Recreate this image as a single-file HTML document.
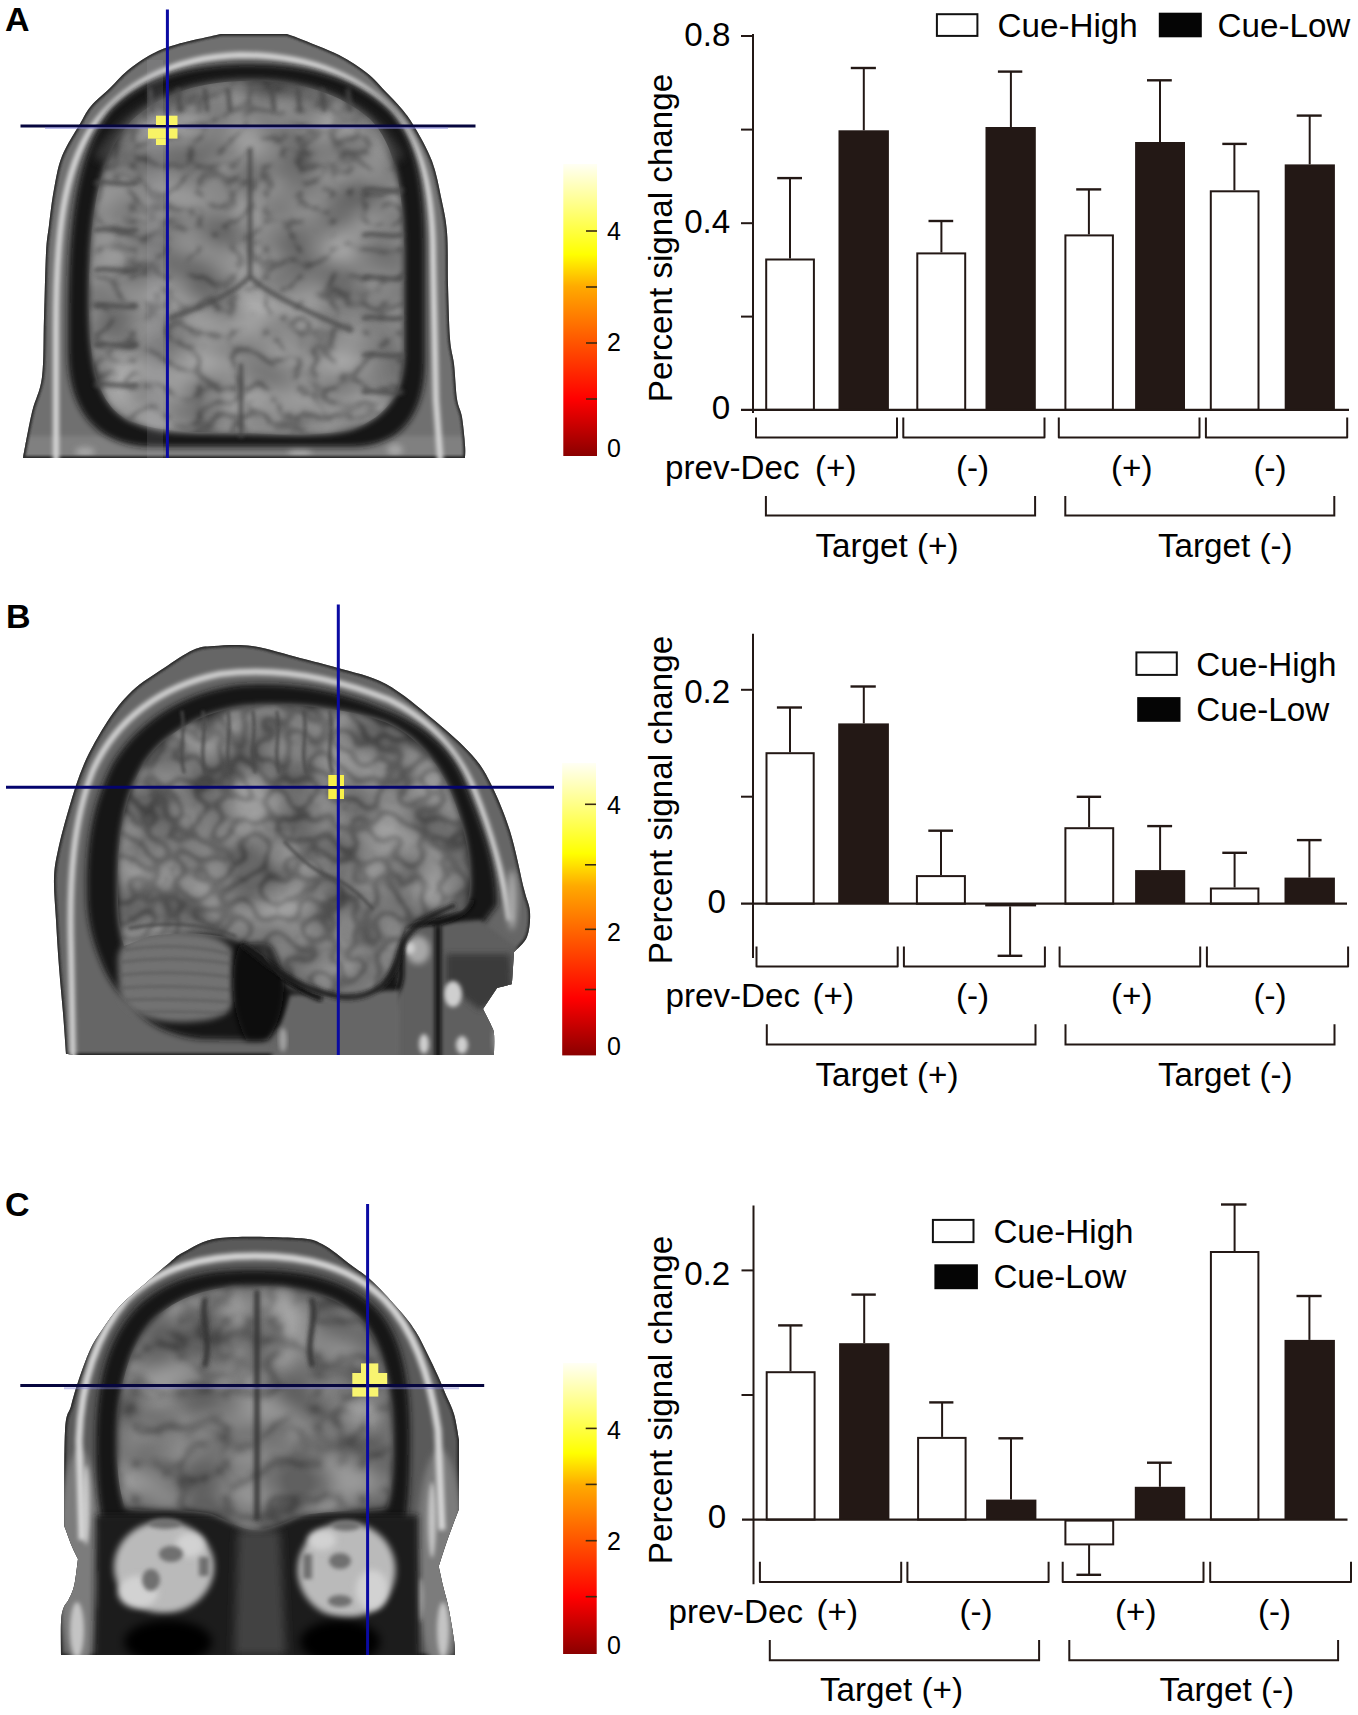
<!DOCTYPE html>
<html><head><meta charset="utf-8"><style>
html,body{margin:0;padding:0;background:#fff;}
body{width:1358px;height:1715px;overflow:hidden;font-family:"Liberation Sans",sans-serif;}
svg{display:block;}
</style></head><body>
<svg width="1358" height="1715" viewBox="0 0 1358 1715" font-family="Liberation Sans, sans-serif" fill="#000">
<defs>
<filter id="bl1" x="-20%" y="-20%" width="140%" height="140%"><feGaussianBlur stdDeviation="1"/></filter>
<filter id="bl15" x="-20%" y="-20%" width="140%" height="140%"><feGaussianBlur stdDeviation="1.5"/></filter>
<filter id="bl2" x="-20%" y="-20%" width="140%" height="140%"><feGaussianBlur stdDeviation="2"/></filter>
<filter id="bl3" x="-20%" y="-20%" width="140%" height="140%"><feGaussianBlur stdDeviation="3"/></filter>
<filter id="bl5" x="-20%" y="-20%" width="140%" height="140%"><feGaussianBlur stdDeviation="5"/></filter>
<filter id="tA" x="60" y="60" width="380" height="400" filterUnits="userSpaceOnUse" color-interpolation-filters="sRGB">
  <feTurbulence type="turbulence" baseFrequency="0.03 0.036" numOctaves="2" seed="11"/>
  <feColorMatrix type="matrix" values="0 0 0 0 0.2  0 0 0 0 0.2  0 0 0 0 0.2  -5 0 0 0 1.05"/>
  <feGaussianBlur stdDeviation="2.2"/>
</filter>
<filter id="tB" x="90" y="680" width="400" height="350" filterUnits="userSpaceOnUse" color-interpolation-filters="sRGB">
  <feTurbulence type="turbulence" baseFrequency="0.045 0.05" numOctaves="1" seed="3"/>
  <feColorMatrix type="matrix" values="0 0 0 0 0.18  0 0 0 0 0.18  0 0 0 0 0.18  -5.5 0 0 0 1.15"/>
  <feGaussianBlur stdDeviation="2"/>
</filter>
<filter id="tC" x="90" y="1260" width="340" height="280" filterUnits="userSpaceOnUse" color-interpolation-filters="sRGB">
  <feTurbulence type="turbulence" baseFrequency="0.022 0.028" numOctaves="2" seed="21"/>
  <feColorMatrix type="matrix" values="0 0 0 0 0.22  0 0 0 0 0.22  0 0 0 0 0.22  -4 0 0 0 1.0"/>
  <feGaussianBlur stdDeviation="2.5"/>
</filter>
<filter id="nA" x="60" y="60" width="380" height="400" filterUnits="userSpaceOnUse" color-interpolation-filters="sRGB">
  <feTurbulence type="fractalNoise" baseFrequency="0.022 0.028" numOctaves="1" seed="7"/>
  <feColorMatrix type="matrix" values="2.2 0 0 0 -0.6  2.2 0 0 0 -0.6  2.2 0 0 0 -0.6  0 0 0 0 1"/>
  <feGaussianBlur stdDeviation="2"/>
</filter>
<filter id="nB" x="90" y="680" width="400" height="350" filterUnits="userSpaceOnUse" color-interpolation-filters="sRGB">
  <feTurbulence type="fractalNoise" baseFrequency="0.022 0.028" numOctaves="1" seed="17"/>
  <feColorMatrix type="matrix" values="2.2 0 0 0 -0.65  2.2 0 0 0 -0.65  2.2 0 0 0 -0.65  0 0 0 0 1"/>
  <feGaussianBlur stdDeviation="2"/>
</filter>
<filter id="nC" x="90" y="1260" width="340" height="280" filterUnits="userSpaceOnUse" color-interpolation-filters="sRGB">
  <feTurbulence type="fractalNoise" baseFrequency="0.022 0.028" numOctaves="1" seed="27"/>
  <feColorMatrix type="matrix" values="2.2 0 0 0 -0.65  2.2 0 0 0 -0.65  2.2 0 0 0 -0.65  0 0 0 0 1"/>
  <feGaussianBlur stdDeviation="2"/>
</filter>
<linearGradient id="hot" x1="0" y1="1" x2="0" y2="0">
 <stop offset="0" stop-color="#8a0000"/>
 <stop offset="0.195" stop-color="#ff0000"/>
 <stop offset="0.387" stop-color="#ff5400"/>
 <stop offset="0.58" stop-color="#ffaa00"/>
 <stop offset="0.69" stop-color="#ffff00"/>
 <stop offset="0.86" stop-color="#ffff88"/>
 <stop offset="1" stop-color="#fffff4"/>
</linearGradient>
</defs>
<clipPath id="clipA"><path d="M23.0,458.0 C24.5,450.3 28.8,425.5 32.0,412.0 C35.2,398.5 40.0,392.7 42.0,377.0 C44.0,361.3 43.3,338.7 44.0,318.0 C44.7,297.3 45.2,268.5 46.0,253.0 C46.8,237.5 47.7,235.7 49.0,225.0 C50.3,214.3 51.8,200.5 54.0,189.0 C56.2,177.5 57.5,167.2 62.0,156.0 C66.5,144.8 76.2,130.3 81.0,122.0 C85.8,113.7 86.2,111.7 91.0,106.0 C95.8,100.3 104.0,93.8 110.0,88.0 C116.0,82.2 120.0,76.7 127.0,71.0 C134.0,65.3 143.5,58.5 152.0,54.0 C160.5,49.5 166.5,47.3 178.0,44.0 C189.5,40.7 213.8,35.7 221.0,34.0 C232.0,34.0 276.0,34.0 287.0,34.0 C288.8,34.7 289.3,34.5 298.0,38.0 C306.7,41.5 327.5,49.2 339.0,55.0 C350.5,60.8 359.3,67.0 367.0,73.0 C374.7,79.0 379.3,85.2 385.0,91.0 C390.7,96.8 396.2,102.2 401.0,108.0 C405.8,113.8 408.8,117.2 414.0,126.0 C419.2,134.8 427.5,149.2 432.0,161.0 C436.5,172.8 438.5,185.2 441.0,197.0 C443.5,208.8 445.8,217.3 447.0,232.0 C448.2,246.7 447.5,267.2 448.0,285.0 C448.5,302.8 449.0,325.8 450.0,339.0 C451.0,352.2 452.8,354.0 454.0,364.0 C455.2,374.0 455.7,390.2 457.0,399.0 C458.3,407.8 460.7,409.3 462.0,417.0 C463.3,424.7 464.5,438.2 465.0,445.0 C465.5,451.8 465.0,455.8 465.0,458.0 C391.3,458.0 96.7,458.0 23.0,458.0 Z"/></clipPath>
<g clip-path="url(#clipA)">
<rect x="0" y="0" width="480" height="470" fill="#707070"/>
<rect x="20" y="436" width="450" height="40" fill="#808080" filter="url(#bl2)"/>
<g filter="url(#bl3)" fill="#b0b0b0" opacity="0.8"><ellipse cx="85" cy="452" rx="10" ry="5"/><ellipse cx="300" cy="452" rx="12" ry="5"/><ellipse cx="395" cy="450" rx="8" ry="6"/></g>
<path d="M23.0,458.0 C24.5,450.3 28.8,425.5 32.0,412.0 C35.2,398.5 40.0,392.7 42.0,377.0 C44.0,361.3 43.3,338.7 44.0,318.0 C44.7,297.3 45.2,268.5 46.0,253.0 C46.8,237.5 47.7,235.7 49.0,225.0 C50.3,214.3 51.8,200.5 54.0,189.0 C56.2,177.5 57.5,167.2 62.0,156.0 C66.5,144.8 76.2,130.3 81.0,122.0 C85.8,113.7 86.2,111.7 91.0,106.0 C95.8,100.3 104.0,93.8 110.0,88.0 C116.0,82.2 120.0,76.7 127.0,71.0 C134.0,65.3 143.5,58.5 152.0,54.0 C160.5,49.5 166.5,47.3 178.0,44.0 C189.5,40.7 213.8,35.7 221.0,34.0 C232.0,34.0 276.0,34.0 287.0,34.0 C288.8,34.7 289.3,34.5 298.0,38.0 C306.7,41.5 327.5,49.2 339.0,55.0 C350.5,60.8 359.3,67.0 367.0,73.0 C374.7,79.0 379.3,85.2 385.0,91.0 C390.7,96.8 396.2,102.2 401.0,108.0 C405.8,113.8 408.8,117.2 414.0,126.0 C419.2,134.8 427.5,149.2 432.0,161.0 C436.5,172.8 438.5,185.2 441.0,197.0 C443.5,208.8 445.8,217.3 447.0,232.0 C448.2,246.7 447.5,267.2 448.0,285.0 C448.5,302.8 449.0,325.8 450.0,339.0 C451.0,352.2 452.8,354.0 454.0,364.0 C455.2,374.0 455.7,390.2 457.0,399.0 C458.3,407.8 460.7,409.3 462.0,417.0 C463.3,424.7 464.5,438.2 465.0,445.0 C465.5,451.8 465.0,455.8 465.0,458.0 C391.3,458.0 96.7,458.0 23.0,458.0 Z" fill="none" stroke="#2a2a2a" stroke-width="4" filter="url(#bl1)"/>
<path d="M56,470 L56,330 C56,230 64,170 92,128 C120,88 170,57 240,55 C310,55 365,78 398,118 C425,152 433,200 433,260 L436,400 L441,470" fill="none" stroke="#d8d8d8" stroke-width="6" filter="url(#bl2)"/>
<path d="M68,320 C68,210 79,150 110,110 C145,73 200,64 250,64 C305,64 355,77 390,110 C418,140 425,190 425,250 L425,360 C425,410 405,445 355,447 L150,447 C95,445 68,410 68,350 Z" fill="#141414" filter="url(#bl3)"/>
<path d="M89,300 C89,205 101,155 131,121 C163,91 205,81 250,81 C300,81 340,93 370,119 C395,144 404,190 404,255 L404,350 C404,392 388,417 352,429 C325,436 285,435 250,433 C205,433 160,433 130,421 C101,407 89,375 89,300 Z" fill="#868686" filter="url(#bl3)"/>
<path d="M100,160 C130,105 190,86 250,86 C310,86 370,105 398,160" fill="none" stroke="#4a4a4a" stroke-width="14" filter="url(#bl5)" opacity="0.7"/>
<path d="M140,330 C190,320 230,300 250,300 C275,300 320,320 380,335 L395,380 C390,410 360,425 330,430 L170,430 C130,425 112,400 110,370 Z" fill="#959595" filter="url(#bl5)"/>
<clipPath id="clipAb"><path d="M89,300 C89,205 101,155 131,121 C163,91 205,81 250,81 C300,81 340,93 370,119 C395,144 404,190 404,255 L404,350 C404,392 388,417 352,429 C325,436 285,435 250,433 C205,433 160,433 130,421 C101,407 89,375 89,300 Z"/></clipPath><g clip-path="url(#clipAb)" opacity="0.65"><rect x="0" y="0" width="560" height="1715" filter="url(#tA)"/></g>
<g clip-path="url(#clipAb)" opacity="0.22"><rect x="0" y="0" width="560" height="1715" filter="url(#nA)"/></g>
<g fill="none" stroke="#4a4a4a" stroke-width="4.5" stroke-linecap="round" filter="url(#bl2)" opacity="0.85"><path d="M250,150 L250,276"/><path d="M250,276 C238,290 215,302 170,318"/><path d="M250,276 C262,290 290,304 350,330"/><path d="M241,365 L241,436"/><path d="M150,90 L152,110"/><path d="M178,90 L180,110"/><path d="M205,90 L207,110"/><path d="M228,90 L230,110"/><path d="M272,90 L274,110"/><path d="M298,90 L300,110"/><path d="M322,90 L324,110"/><path d="M348,90 L350,110"/><path d="M96,183 C108,180 122,186 136,183"/><path d="M96,230 C108,227 122,233 136,230"/><path d="M96,270 C108,267 122,273 136,270"/><path d="M96,306 C108,303 122,309 136,306"/><path d="M96,345 C108,342 122,348 136,345"/><path d="M96,385 C108,382 122,388 136,385"/><path d="M364,190 C375,187 388,193 402,190"/><path d="M364,235 C375,232 388,238 402,235"/><path d="M364,278 C375,275 388,281 402,278"/><path d="M364,318 C375,315 388,321 402,318"/><path d="M364,355 C375,352 388,358 402,355"/><path d="M364,392 C375,389 388,395 402,392"/></g>
<rect x="147" y="60" width="16" height="400" fill="#b0b0b8" opacity="0.15"/>
</g>
<line x1="20.5" y1="126" x2="475.5" y2="126" stroke="#06063e" stroke-width="3"/>
<line x1="45" y1="128" x2="448" y2="128" stroke="#8080d8" stroke-width="2" opacity="0.5"/>
<g fill="#f8f466"><rect x="156" y="115.7" width="10.5" height="9.3"/><rect x="169" y="115.7" width="8.5" height="9.3"/><rect x="148" y="128.4" width="29.5" height="10.2"/><rect x="156" y="138.6" width="10.5" height="6.4"/></g>
<line x1="167.4" y1="9.5" x2="167.4" y2="458" stroke="#0a0aa2" stroke-width="3"/>
<clipPath id="clipB"><path d="M66.0,1054.0 C65.5,1047.2 64.2,1027.5 63.0,1013.0 C61.8,998.5 60.2,982.5 59.0,967.0 C57.8,951.5 56.8,934.7 56.0,920.0 C55.2,905.3 53.7,890.7 54.0,879.0 C54.3,867.3 55.5,861.8 58.0,850.0 C60.5,838.2 64.7,822.3 69.0,808.0 C73.3,793.7 77.7,778.3 84.0,764.0 C90.3,749.7 99.0,734.2 107.0,722.0 C115.0,709.8 122.5,700.0 132.0,691.0 C141.5,682.0 153.8,674.8 164.0,668.0 C174.2,661.2 184.7,653.7 193.0,650.0 C201.3,646.3 204.2,646.7 214.0,646.0 C223.8,645.3 237.7,644.0 252.0,646.0 C266.3,648.0 285.7,654.3 300.0,658.0 C314.3,661.7 323.7,663.7 338.0,668.0 C352.3,672.3 370.0,675.3 386.0,684.0 C402.0,692.7 419.7,708.2 434.0,720.0 C448.3,731.8 462.5,744.3 472.0,755.0 C481.5,765.7 484.7,771.3 491.0,784.0 C497.3,796.7 504.5,813.5 510.0,831.0 C515.5,848.5 520.7,875.5 524.0,889.0 C527.3,902.5 529.5,904.0 530.0,912.0 C530.5,920.0 529.7,930.3 527.0,937.0 C524.3,943.7 516.2,949.5 514.0,952.0 C513.7,957.3 512.3,978.7 512.0,984.0 C509.5,984.7 499.5,987.3 497.0,988.0 C494.7,991.5 485.3,1005.5 483.0,1009.0 C484.3,1011.7 489.2,1020.8 491.0,1025.0 C492.8,1029.2 493.5,1029.0 494.0,1034.0 C494.5,1039.0 494.0,1051.5 494.0,1055.0 C424.0,1055.0 144.0,1055.0 74.0,1055.0 C72.7,1054.8 67.3,1054.2 66.0,1054.0 Z"/></clipPath>
<g clip-path="url(#clipB)">
<rect x="40" y="630" width="500" height="430" fill="#666666"/>
<path d="M66.0,1054.0 C65.5,1047.2 64.2,1027.5 63.0,1013.0 C61.8,998.5 60.2,982.5 59.0,967.0 C57.8,951.5 56.8,934.7 56.0,920.0 C55.2,905.3 53.7,890.7 54.0,879.0 C54.3,867.3 55.5,861.8 58.0,850.0 C60.5,838.2 64.7,822.3 69.0,808.0 C73.3,793.7 77.7,778.3 84.0,764.0 C90.3,749.7 99.0,734.2 107.0,722.0 C115.0,709.8 122.5,700.0 132.0,691.0 C141.5,682.0 153.8,674.8 164.0,668.0 C174.2,661.2 184.7,653.7 193.0,650.0 C201.3,646.3 204.2,646.7 214.0,646.0 C223.8,645.3 237.7,644.0 252.0,646.0 C266.3,648.0 285.7,654.3 300.0,658.0 C314.3,661.7 323.7,663.7 338.0,668.0 C352.3,672.3 370.0,675.3 386.0,684.0 C402.0,692.7 419.7,708.2 434.0,720.0 C448.3,731.8 462.5,744.3 472.0,755.0 C481.5,765.7 484.7,771.3 491.0,784.0 C497.3,796.7 504.5,813.5 510.0,831.0 C515.5,848.5 520.7,875.5 524.0,889.0 C527.3,902.5 529.5,904.0 530.0,912.0 C530.5,920.0 529.7,930.3 527.0,937.0 C524.3,943.7 516.2,949.5 514.0,952.0 C513.7,957.3 512.3,978.7 512.0,984.0 C509.5,984.7 499.5,987.3 497.0,988.0 C494.7,991.5 485.3,1005.5 483.0,1009.0 C484.3,1011.7 489.2,1020.8 491.0,1025.0 C492.8,1029.2 493.5,1029.0 494.0,1034.0 C494.5,1039.0 494.0,1051.5 494.0,1055.0 C424.0,1055.0 144.0,1055.0 74.0,1055.0 C72.7,1054.8 67.3,1054.2 66.0,1054.0 Z" fill="none" stroke="#2a2a2a" stroke-width="4" filter="url(#bl1)"/>
<path d="M73,1060 L71,950 C69,880 73,820 93,770 C116,720 160,686 220,674 C280,666 340,680 390,700 C430,720 458,752 474,790 C490,830 502,870 510,920" fill="none" stroke="#d4d4d4" stroke-width="6" filter="url(#bl2)"/>
<path d="M87,900 C86,850 90,810 112,765 C140,717 190,691 240,685 C300,681 350,693 400,716 C440,736 458,760 468,790 C484,830 497,865 497,905 L482,925 L440,932 L420,1000 L380,1010 L300,1010 L262,1040 L200,1039 C172,1036 152,1026 138,1012 C122,997 110,984 102,964 C94,945 88,925 87,900 Z" fill="#131313" filter="url(#bl3)"/>
<path d="M398,926 L480,920 L520,950 L520,1060 L395,1060 Z" fill="#5e5e5e" filter="url(#bl2)"/>
<path d="M446,954 L510,954 L512,990 L480,1010 L446,984 Z" fill="#3a3a3a" filter="url(#bl3)"/>
<ellipse cx="418" cy="950" rx="12" ry="14" fill="#a8a8a8" filter="url(#bl3)"/>
<g filter="url(#bl2)" fill="#cfcfcf"><ellipse cx="453" cy="994" rx="9" ry="13"/><ellipse cx="410" cy="948" rx="5" ry="6"/><ellipse cx="424" cy="1044" rx="5" ry="10"/><ellipse cx="462" cy="1045" rx="6" ry="9"/></g>
<g filter="url(#bl3)" fill="#a8a8a8"><ellipse cx="512" cy="900" rx="5" ry="30"/><ellipse cx="500" cy="1040" rx="6" ry="14"/></g>
<g filter="url(#bl2)" stroke="#111" stroke-width="6" fill="none"><path d="M438,926 L438,1060"/><path d="M401,926 L401,975 C400,990 392,1000 385,1005"/><path d="M400,924 L440,922 C455,918 468,912 472,900"/></g>
<path d="M290,995 L400,990 L400,1060 L270,1060 Z" fill="#666" filter="url(#bl2)"/>
<path d="M118,900 C116,840 124,800 140,770 C160,735 200,712 245,706 C290,702 345,708 385,722 C415,735 438,760 452,795 C462,820 470,850 470,880 C470,895 468,905 462,910 C440,916 418,918 405,926 C399,945 394,970 380,987 C365,997 340,999 318,995 C300,992 290,988 283,982 L262,956 L242,942 C215,932 180,932 150,936 L124,946 C120,932 118,916 118,900 Z" fill="#848484" filter="url(#bl3)"/>
<path d="M118,960 C118,940 140,932 175,932 C205,932 225,938 232,950 L234,1000 C232,1015 215,1022 180,1022 C145,1022 122,1010 119,990 Z" fill="#727272" filter="url(#bl3)"/>
<g stroke="#5a5a5a" stroke-width="2.5" fill="none" filter="url(#bl15)" opacity="0.7"><path d="M125,950 C160,944 200,946 230,954"/><path d="M121,962 C160,957 200,959 232,964"/><path d="M120,975 C160,971 200,973 232,977"/><path d="M121,988 C160,985 200,987 232,990"/><path d="M126,1000 C160,998 200,1000 230,1002"/><path d="M138,1012 C170,1011 200,1012 225,1013"/></g>
<path d="M239,946 C250,941 265,941 272,946 C279,958 285,972 284,990 C283,1010 277,1028 268,1040 L246,1040 C238,1025 233,1005 233,985 C233,968 235,955 239,946 Z" fill="#080808" filter="url(#bl3)"/>
<path d="M280,975 C295,985 305,993 322,999" fill="none" stroke="#111" stroke-width="6" filter="url(#bl2)"/>
<ellipse cx="283" cy="1040" rx="4" ry="12" fill="#a0a0a0" filter="url(#bl2)"/>
<clipPath id="clipBb"><path d="M118,900 C116,840 124,800 140,770 C160,735 200,712 245,706 C290,702 345,708 385,722 C415,735 438,760 452,795 C462,820 470,850 470,880 C470,895 468,905 462,910 C440,916 418,918 405,926 C399,945 394,970 380,987 C365,997 340,999 318,995 C300,992 290,988 283,982 L262,956 L242,942 C215,932 180,932 150,936 L124,946 C120,932 118,916 118,900 Z"/></clipPath><g clip-path="url(#clipBb)" opacity="0.55"><rect x="0" y="0" width="560" height="1715" filter="url(#tB)"/></g>
<g clip-path="url(#clipBb)" opacity="0.22"><rect x="0" y="0" width="560" height="1715" filter="url(#nB)"/></g>
<g fill="none" stroke="#4a4a4a" stroke-width="3.5" stroke-linecap="round" filter="url(#bl15)" opacity="0.8"><path d="M182,712 C186,735 178,752 184,772"/><path d="M203,712 C207,735 199,752 205,772"/><path d="M228,712 C232,735 224,752 230,772"/><path d="M253,712 C257,735 249,752 255,772"/><path d="M277,712 C281,735 273,752 279,772"/><path d="M304,712 C308,735 300,752 306,772"/><path d="M330,712 C334,735 326,752 332,772"/><path d="M130,928 C160,922 200,922 235,936"/><path d="M285,842 C300,860 320,875 340,881 C355,890 365,900 372,908"/></g>
<path d="M242,944 C265,960 285,985 340,997 C370,1000 390,985 398,960 C402,935 415,922 455,905" fill="none" stroke="#1a1a1a" stroke-width="5" filter="url(#bl2)"/>
</g>
<line x1="6" y1="787.2" x2="554" y2="787.2" stroke="#04046e" stroke-width="3"/>
<g fill="#f8f04a"><rect x="328.3" y="775" width="8.7" height="11"/><rect x="340" y="775" width="4" height="11"/><rect x="328.3" y="789" width="8.7" height="10"/><rect x="340" y="789" width="4" height="10"/></g>
<line x1="338.3" y1="604.4" x2="338.3" y2="1055" stroke="#0a0aa2" stroke-width="3"/>
<clipPath id="clipC"><path d="M61.0,1655.0 C61.0,1649.5 60.6,1629.8 61.0,1622.0 C61.4,1614.2 62.2,1611.8 63.5,1608.0 C64.8,1604.2 67.2,1602.8 69.0,1599.0 C70.8,1595.2 72.8,1591.7 74.3,1585.0 C75.8,1578.3 77.4,1563.3 78.0,1559.0 C77.0,1556.9 74.3,1552.0 72.0,1546.5 C69.7,1541.0 65.6,1529.4 64.3,1526.0 C64.4,1510.2 63.9,1451.0 65.0,1431.0 C66.1,1411.0 68.8,1414.2 71.0,1406.0 C73.2,1397.8 74.8,1391.3 78.0,1382.0 C81.2,1372.7 86.0,1358.7 90.0,1350.0 C94.0,1341.3 97.0,1337.3 102.0,1330.0 C107.0,1322.7 112.5,1314.0 120.0,1306.0 C127.5,1298.0 139.0,1289.0 147.0,1282.0 C155.0,1275.0 161.8,1269.0 168.0,1264.0 C174.2,1259.0 175.3,1256.3 184.0,1252.0 C192.7,1247.7 201.3,1240.3 220.0,1238.0 C238.7,1235.7 279.0,1237.0 296.0,1238.0 C313.0,1239.0 312.8,1239.5 322.0,1244.0 C331.2,1248.5 342.5,1258.7 351.0,1265.0 C359.5,1271.3 364.7,1274.2 373.0,1282.0 C381.3,1289.8 393.8,1303.7 401.0,1312.0 C408.2,1320.3 411.7,1325.2 416.0,1332.0 C420.3,1338.8 423.3,1345.7 427.0,1353.0 C430.7,1360.3 434.8,1369.0 438.0,1376.0 C441.2,1383.0 443.3,1388.7 446.0,1395.0 C448.7,1401.3 451.8,1406.5 454.0,1414.0 C456.2,1421.5 458.2,1435.7 459.0,1440.0 C459.0,1451.5 459.0,1497.5 459.0,1509.0 C457.0,1514.3 450.4,1531.4 447.0,1541.0 C443.6,1550.6 440.1,1562.2 438.7,1566.5 C439.5,1569.9 441.6,1579.9 443.3,1587.0 C445.0,1594.1 447.0,1599.8 448.8,1609.0 C450.6,1618.2 453.3,1634.3 454.3,1642.0 C455.3,1649.7 454.9,1652.8 455.0,1655.0 C389.3,1655.0 126.7,1655.0 61.0,1655.0 Z"/></clipPath>
<g clip-path="url(#clipC)">
<rect x="40" y="1230" width="440" height="430" fill="#5a5a5a"/>
<path d="M61.0,1655.0 C61.0,1649.5 60.6,1629.8 61.0,1622.0 C61.4,1614.2 62.2,1611.8 63.5,1608.0 C64.8,1604.2 67.2,1602.8 69.0,1599.0 C70.8,1595.2 72.8,1591.7 74.3,1585.0 C75.8,1578.3 77.4,1563.3 78.0,1559.0 C77.0,1556.9 74.3,1552.0 72.0,1546.5 C69.7,1541.0 65.6,1529.4 64.3,1526.0 C64.4,1510.2 63.9,1451.0 65.0,1431.0 C66.1,1411.0 68.8,1414.2 71.0,1406.0 C73.2,1397.8 74.8,1391.3 78.0,1382.0 C81.2,1372.7 86.0,1358.7 90.0,1350.0 C94.0,1341.3 97.0,1337.3 102.0,1330.0 C107.0,1322.7 112.5,1314.0 120.0,1306.0 C127.5,1298.0 139.0,1289.0 147.0,1282.0 C155.0,1275.0 161.8,1269.0 168.0,1264.0 C174.2,1259.0 175.3,1256.3 184.0,1252.0 C192.7,1247.7 201.3,1240.3 220.0,1238.0 C238.7,1235.7 279.0,1237.0 296.0,1238.0 C313.0,1239.0 312.8,1239.5 322.0,1244.0 C331.2,1248.5 342.5,1258.7 351.0,1265.0 C359.5,1271.3 364.7,1274.2 373.0,1282.0 C381.3,1289.8 393.8,1303.7 401.0,1312.0 C408.2,1320.3 411.7,1325.2 416.0,1332.0 C420.3,1338.8 423.3,1345.7 427.0,1353.0 C430.7,1360.3 434.8,1369.0 438.0,1376.0 C441.2,1383.0 443.3,1388.7 446.0,1395.0 C448.7,1401.3 451.8,1406.5 454.0,1414.0 C456.2,1421.5 458.2,1435.7 459.0,1440.0 C459.0,1451.5 459.0,1497.5 459.0,1509.0 C457.0,1514.3 450.4,1531.4 447.0,1541.0 C443.6,1550.6 440.1,1562.2 438.7,1566.5 C439.5,1569.9 441.6,1579.9 443.3,1587.0 C445.0,1594.1 447.0,1599.8 448.8,1609.0 C450.6,1618.2 453.3,1634.3 454.3,1642.0 C455.3,1649.7 454.9,1652.8 455.0,1655.0 C389.3,1655.0 126.7,1655.0 61.0,1655.0 Z" fill="none" stroke="#2a2a2a" stroke-width="4" filter="url(#bl1)"/>
<g filter="url(#bl3)"><ellipse cx="80" cy="1560" rx="22" ry="110" fill="#7c7c7c"/><ellipse cx="440" cy="1560" rx="24" ry="110" fill="#7c7c7c"/></g>
<g filter="url(#bl2)" fill="#c4c4c4"><ellipse cx="86" cy="1505" rx="4" ry="40"/><ellipse cx="77" cy="1630" rx="7" ry="28"/><ellipse cx="432" cy="1520" rx="4" ry="38"/><ellipse cx="443" cy="1630" rx="6" ry="28"/><ellipse cx="100" cy="1590" rx="3" ry="20"/><ellipse cx="420" cy="1600" rx="3" ry="22"/></g>
<path d="M82,1540 L79,1440 C81,1380 96,1335 126,1300 C161,1266 205,1256 255,1256 C305,1256 350,1266 385,1300 C414,1330 430,1375 438,1430 L442,1530" fill="none" stroke="#d8d8d8" stroke-width="7" filter="url(#bl2)"/>
<path d="M96,1445 C96,1380 108,1337 138,1306 C172,1275 210,1270 255,1270 C300,1270 342,1278 374,1306 C402,1333 410,1380 410,1440 C410,1480 408,1510 404,1530 L104,1530 C99,1510 96,1480 96,1445 Z" fill="#141414" filter="url(#bl3)"/>
<path d="M96,1515 L418,1515 L420,1660 L94,1660 Z" fill="#1e1e1e" filter="url(#bl3)"/>
<path d="M238,1530 L280,1530 L286,1655 L234,1655 Z" fill="#424242" filter="url(#bl5)"/>
<path d="M117,1445 C117,1390 128,1345 155,1318 C185,1291 220,1286 257,1286 C295,1286 330,1293 358,1316 C382,1340 393,1385 393,1440 C393,1478 391,1498 386,1508 C365,1512 325,1510 300,1516 C285,1522 268,1530 255,1530 C240,1530 228,1520 212,1514 C185,1508 150,1512 125,1508 C119,1490 117,1470 117,1445 Z" fill="#7c7c7c" filter="url(#bl3)"/>
<g filter="url(#bl5)" fill="#8e8e8e"><ellipse cx="235" cy="1330" rx="14" ry="40"/><ellipse cx="282" cy="1330" rx="14" ry="40"/><ellipse cx="160" cy="1420" rx="30" ry="20"/><ellipse cx="350" cy="1420" rx="28" ry="20"/></g>
<clipPath id="clipCb"><path d="M117,1445 C117,1390 128,1345 155,1318 C185,1291 220,1286 257,1286 C295,1286 330,1293 358,1316 C382,1340 393,1385 393,1440 C393,1478 391,1498 386,1508 C365,1512 325,1510 300,1516 C285,1522 268,1530 255,1530 C240,1530 228,1520 212,1514 C185,1508 150,1512 125,1508 C119,1490 117,1470 117,1445 Z"/></clipPath><g clip-path="url(#clipCb)" opacity="0.65"><rect x="0" y="0" width="560" height="1715" filter="url(#tC)"/></g>
<g clip-path="url(#clipCb)" opacity="0.22"><rect x="0" y="0" width="560" height="1715" filter="url(#nC)"/></g>
<g filter="url(#bl3)"><ellipse cx="164" cy="1567" rx="50" ry="46" fill="#bababa"/><ellipse cx="346.5" cy="1570" rx="49" ry="48" fill="#bababa"/></g>
<g filter="url(#bl3)" fill="#d2d2d2"><ellipse cx="138" cy="1592" rx="20" ry="16"/><ellipse cx="190" cy="1545" rx="14" ry="12"/><ellipse cx="372" cy="1590" rx="16" ry="20"/><ellipse cx="322" cy="1540" rx="14" ry="10"/></g>
<g filter="url(#bl2)" fill="#707070"><ellipse cx="171" cy="1554" rx="12" ry="8"/><ellipse cx="151" cy="1580" rx="9" ry="11"/><rect x="199" y="1557" width="10" height="19"/><ellipse cx="340" cy="1561" rx="11" ry="8"/><rect x="303" y="1554" width="9" height="25"/><ellipse cx="340" cy="1601" rx="12" ry="6"/><ellipse cx="165" cy="1524" rx="16" ry="5"/><ellipse cx="346" cy="1526" rx="14" ry="5"/></g>
<g fill="#050505" filter="url(#bl5)"><ellipse cx="168" cy="1642" rx="44" ry="22"/><ellipse cx="340" cy="1642" rx="40" ry="22"/></g>
<g fill="none" stroke="#333" stroke-width="5" stroke-linecap="round" filter="url(#bl2)"><path d="M257,1292 L257,1518"/><path d="M205,1300 C200,1320 212,1340 205,1365"/><path d="M312,1300 C318,1320 305,1340 312,1365"/></g>
</g>
<line x1="20.3" y1="1385.4" x2="484.2" y2="1385.4" stroke="#06063e" stroke-width="3"/>
<line x1="64" y1="1388.2" x2="459" y2="1388.2" stroke="#8080d8" stroke-width="2" opacity="0.45"/>
<g fill="#f8f470"><rect x="361" y="1363.4" width="17.3" height="9.6"/><rect x="352.3" y="1373" width="34.9" height="11"/><rect x="352.3" y="1387.5" width="26" height="9.1"/></g>
<line x1="367.6" y1="1204" x2="367.6" y2="1655" stroke="#0a0aa2" stroke-width="3"/>
<rect x="563.3" y="164" width="33.700000000000045" height="292" fill="url(#hot)"/>
<line x1="586" y1="231" x2="597" y2="231" stroke="#3a2a10" stroke-width="1.6"/>
<line x1="586" y1="287" x2="597" y2="287" stroke="#3a2a10" stroke-width="1.6"/>
<line x1="586" y1="343" x2="597" y2="343" stroke="#3a2a10" stroke-width="1.6"/>
<line x1="586" y1="399" x2="597" y2="399" stroke="#3a2a10" stroke-width="1.6"/>
<text x="607" y="240" font-size="25">4</text>
<text x="607" y="351" font-size="25">2</text>
<text x="607" y="456.5" font-size="25">0</text>
<rect x="562.2" y="763" width="33.799999999999955" height="292.4000000000001" fill="url(#hot)"/>
<line x1="585" y1="804.3" x2="596" y2="804.3" stroke="#3a2a10" stroke-width="1.6"/>
<line x1="585" y1="864.8" x2="596" y2="864.8" stroke="#3a2a10" stroke-width="1.6"/>
<line x1="585" y1="929.3" x2="596" y2="929.3" stroke="#3a2a10" stroke-width="1.6"/>
<line x1="585" y1="989.5" x2="596" y2="989.5" stroke="#3a2a10" stroke-width="1.6"/>
<text x="607" y="814" font-size="25">4</text>
<text x="607" y="940.7" font-size="25">2</text>
<text x="607" y="1055.4" font-size="25">0</text>
<rect x="563.1" y="1363" width="33.60000000000002" height="291" fill="url(#hot)"/>
<line x1="585.7" y1="1428.4" x2="596.7" y2="1428.4" stroke="#3a2a10" stroke-width="1.6"/>
<line x1="585.7" y1="1484.4" x2="596.7" y2="1484.4" stroke="#3a2a10" stroke-width="1.6"/>
<line x1="585.7" y1="1540.7" x2="596.7" y2="1540.7" stroke="#3a2a10" stroke-width="1.6"/>
<line x1="585.7" y1="1596.7" x2="596.7" y2="1596.7" stroke="#3a2a10" stroke-width="1.6"/>
<text x="607" y="1438.5" font-size="25">4</text>
<text x="607" y="1550" font-size="25">2</text>
<text x="607" y="1654" font-size="25">0</text>
<text x="5" y="31" font-size="34" font-weight="bold">A</text>
<text x="6" y="628" font-size="34" font-weight="bold">B</text>
<text x="5" y="1216" font-size="34" font-weight="bold">C</text>
<line x1="753" y1="34" x2="753" y2="413" stroke="#231815" stroke-width="2.0"/>
<line x1="741" y1="36" x2="753" y2="36" stroke="#231815" stroke-width="2.0"/>
<line x1="741" y1="129.6" x2="753" y2="129.6" stroke="#231815" stroke-width="2.0"/>
<line x1="741" y1="223.2" x2="753" y2="223.2" stroke="#231815" stroke-width="2.0"/>
<line x1="741" y1="316.6" x2="753" y2="316.6" stroke="#231815" stroke-width="2.0"/>
<line x1="790" y1="178.1" x2="790" y2="258.5" stroke="#231815" stroke-width="2.0"/>
<line x1="777.2" y1="178.1" x2="802" y2="178.1" stroke="#231815" stroke-width="2.4"/>
<line x1="863.8" y1="68" x2="863.8" y2="130.3" stroke="#231815" stroke-width="2.0"/>
<line x1="850.8" y1="68" x2="875.9" y2="68" stroke="#231815" stroke-width="2.4"/>
<line x1="941.4" y1="221" x2="941.4" y2="252.4" stroke="#231815" stroke-width="2.0"/>
<line x1="928.5" y1="221" x2="953.2" y2="221" stroke="#231815" stroke-width="2.4"/>
<line x1="1010.9" y1="71.6" x2="1010.9" y2="127" stroke="#231815" stroke-width="2.0"/>
<line x1="997.9" y1="71.6" x2="1022.3" y2="71.6" stroke="#231815" stroke-width="2.4"/>
<line x1="1088.9" y1="189.4" x2="1088.9" y2="234.4" stroke="#231815" stroke-width="2.0"/>
<line x1="1076.2" y1="189.4" x2="1101.2" y2="189.4" stroke="#231815" stroke-width="2.4"/>
<line x1="1160" y1="80.3" x2="1160" y2="142" stroke="#231815" stroke-width="2.0"/>
<line x1="1147" y1="80.3" x2="1171.8" y2="80.3" stroke="#231815" stroke-width="2.4"/>
<line x1="1234.4" y1="143.9" x2="1234.4" y2="190.3" stroke="#231815" stroke-width="2.0"/>
<line x1="1222.3" y1="143.9" x2="1246.8" y2="143.9" stroke="#231815" stroke-width="2.4"/>
<line x1="1309.7" y1="115.6" x2="1309.7" y2="164.4" stroke="#231815" stroke-width="2.0"/>
<line x1="1296.7" y1="115.6" x2="1321.7" y2="115.6" stroke="#231815" stroke-width="2.4"/>
<rect x="766.2" y="259.5" width="47.69999999999993" height="150.3" fill="#fff" stroke="#231815" stroke-width="2"/>
<rect x="838.5" y="130.3" width="50.39999999999998" height="279.5" fill="#231815"/>
<rect x="917.3" y="253.4" width="47.90000000000009" height="156.4" fill="#fff" stroke="#231815" stroke-width="2"/>
<rect x="985.5" y="127" width="50.299999999999955" height="282.8" fill="#231815"/>
<rect x="1065.4" y="235.4" width="47.5" height="174.4" fill="#fff" stroke="#231815" stroke-width="2"/>
<rect x="1135.1" y="142" width="49.90000000000009" height="267.8" fill="#231815"/>
<rect x="1210.8" y="191.3" width="47.700000000000045" height="218.5" fill="#fff" stroke="#231815" stroke-width="2"/>
<rect x="1284.7" y="164.4" width="50.200000000000045" height="245.4" fill="#231815"/>
<line x1="741" y1="409.8" x2="1349" y2="409.8" stroke="#231815" stroke-width="2.2"/>
<path d="M756 417.5 V437.6 H897 V417.5" fill="none" stroke="#231815" stroke-width="2" stroke-linejoin="round"/>
<path d="M903.3 417.5 V437.6 H1044.5 V417.5" fill="none" stroke="#231815" stroke-width="2" stroke-linejoin="round"/>
<path d="M1058.8 417.5 V437.6 H1199.5 V417.5" fill="none" stroke="#231815" stroke-width="2" stroke-linejoin="round"/>
<path d="M1205.9 417.5 V437.6 H1347.2 V417.5" fill="none" stroke="#231815" stroke-width="2" stroke-linejoin="round"/>
<path d="M765.9 496 V515.5 H1035.1 V496" fill="none" stroke="#231815" stroke-width="2"/>
<path d="M1065.3 496 V515.5 H1334.3 V496" fill="none" stroke="#231815" stroke-width="2"/>
<text x="730.5" y="45.8" font-size="33.2" text-anchor="end" >0.8</text>
<text x="730.3" y="232.9" font-size="33.2" text-anchor="end" >0.4</text>
<text x="730.3" y="418.6" font-size="33.2" text-anchor="end" >0</text>
<text transform="translate(671.5 238) rotate(-90)" font-size="33.2" text-anchor="middle">Percent signal change</text>
<text x="665" y="478.6" font-size="33.2" text-anchor="start" >prev-Dec</text>
<text x="815" y="478.6" font-size="33.2" text-anchor="start" >(+)</text>
<text x="956" y="478.6" font-size="33.2" text-anchor="start" >(-)</text>
<text x="1111" y="478.6" font-size="33.2" text-anchor="start" >(+)</text>
<text x="1253.5" y="478.6" font-size="33.2" text-anchor="start" >(-)</text>
<text x="815.5" y="556.5" font-size="33.2" text-anchor="start" >Target (+)</text>
<text x="1158" y="556.8" font-size="33.2" text-anchor="start" >Target (-)</text>
<rect x="936.9" y="14.2" width="40.5" height="21.7" fill="#fff" stroke="#111" stroke-width="2"/>
<rect x="1158.8" y="12.7" width="43.0" height="24.599999999999998" fill="#050505"/>
<text x="997.6" y="36.9" font-size="33.2" text-anchor="start" >Cue-High</text>
<text x="1217.5" y="36.9" font-size="33.2" text-anchor="start" >Cue-Low</text>
<line x1="753" y1="633.8" x2="753" y2="958" stroke="#231815" stroke-width="2.0"/>
<line x1="741" y1="689.8" x2="753" y2="689.8" stroke="#231815" stroke-width="2.0"/>
<line x1="741" y1="796.7" x2="753" y2="796.7" stroke="#231815" stroke-width="2.0"/>
<line x1="790" y1="707.5" x2="790" y2="752.2" stroke="#231815" stroke-width="2.0"/>
<line x1="776.9" y1="707.5" x2="802" y2="707.5" stroke="#231815" stroke-width="2.4"/>
<line x1="863.8" y1="686.5" x2="863.8" y2="723.4" stroke="#231815" stroke-width="2.0"/>
<line x1="850.5" y1="686.5" x2="875.8" y2="686.5" stroke="#231815" stroke-width="2.4"/>
<line x1="941" y1="830.7" x2="941" y2="875.1" stroke="#231815" stroke-width="2.0"/>
<line x1="928.3" y1="830.7" x2="953" y2="830.7" stroke="#231815" stroke-width="2.4"/>
<line x1="1010.1" y1="955.8" x2="1010.1" y2="906.4" stroke="#231815" stroke-width="2.0"/>
<line x1="997.6" y1="955.8" x2="1022.3" y2="955.8" stroke="#231815" stroke-width="2.4"/>
<line x1="1089.1" y1="796.8" x2="1089.1" y2="827.2" stroke="#231815" stroke-width="2.0"/>
<line x1="1076.7" y1="796.8" x2="1101.1" y2="796.8" stroke="#231815" stroke-width="2.4"/>
<line x1="1160.1" y1="826.1" x2="1160.1" y2="870.1" stroke="#231815" stroke-width="2.0"/>
<line x1="1147.2" y1="826.1" x2="1172.1" y2="826.1" stroke="#231815" stroke-width="2.4"/>
<line x1="1234.6" y1="852.8" x2="1234.6" y2="887.5" stroke="#231815" stroke-width="2.0"/>
<line x1="1222.3" y1="852.8" x2="1247" y2="852.8" stroke="#231815" stroke-width="2.4"/>
<line x1="1309.4" y1="840.1" x2="1309.4" y2="877.6" stroke="#231815" stroke-width="2.0"/>
<line x1="1296.9" y1="840.1" x2="1321.6" y2="840.1" stroke="#231815" stroke-width="2.4"/>
<rect x="766.5" y="753.2" width="47.200000000000045" height="150.5" fill="#fff" stroke="#231815" stroke-width="2"/>
<rect x="838.2" y="723.4" width="50.69999999999993" height="180.30000000000007" fill="#231815"/>
<rect x="916.9" y="876.1" width="48.0" height="27.600000000000023" fill="#fff" stroke="#231815" stroke-width="2"/>
<rect x="985.2" y="903.7" width="50.899999999999864" height="2.699999999999932" fill="#231815"/>
<rect x="1065.4" y="828.2" width="47.799999999999955" height="75.5" fill="#fff" stroke="#231815" stroke-width="2"/>
<rect x="1135.1" y="870.1" width="50.100000000000136" height="33.60000000000002" fill="#231815"/>
<rect x="1210.9" y="888.5" width="47.5" height="15.200000000000045" fill="#fff" stroke="#231815" stroke-width="2"/>
<rect x="1284.5" y="877.6" width="50.40000000000009" height="26.100000000000023" fill="#231815"/>
<line x1="741" y1="903.7" x2="1347" y2="903.7" stroke="#231815" stroke-width="2.2"/>
<path d="M756.5 946.5 V966.5 H897.7 V946.5" fill="none" stroke="#231815" stroke-width="2" stroke-linejoin="round"/>
<path d="M903.9 946.5 V966.5 H1044.9 V946.5" fill="none" stroke="#231815" stroke-width="2" stroke-linejoin="round"/>
<path d="M1059.6 946.5 V966.5 H1200.2 V946.5" fill="none" stroke="#231815" stroke-width="2" stroke-linejoin="round"/>
<path d="M1206.9 946.5 V966.5 H1348.1 V946.5" fill="none" stroke="#231815" stroke-width="2" stroke-linejoin="round"/>
<path d="M766.8 1024.3 V1044.5 H1035.5 V1024.3" fill="none" stroke="#231815" stroke-width="2"/>
<path d="M1065.5 1024.3 V1044.5 H1334.5 V1024.3" fill="none" stroke="#231815" stroke-width="2"/>
<text x="730.3" y="702.9" font-size="33.2" text-anchor="end" >0.2</text>
<text x="726" y="912.8" font-size="33.2" text-anchor="end" >0</text>
<text transform="translate(671.5 800) rotate(-90)" font-size="33.2" text-anchor="middle">Percent signal change</text>
<text x="665.5" y="1007.4" font-size="33.2" text-anchor="start" >prev-Dec</text>
<text x="812.5" y="1007.4" font-size="33.2" text-anchor="start" >(+)</text>
<text x="956" y="1007.4" font-size="33.2" text-anchor="start" >(-)</text>
<text x="1111" y="1007.4" font-size="33.2" text-anchor="start" >(+)</text>
<text x="1253.5" y="1007.4" font-size="33.2" text-anchor="start" >(-)</text>
<text x="815.5" y="1085.8" font-size="33.2" text-anchor="start" >Target (+)</text>
<text x="1158" y="1085.8" font-size="33.2" text-anchor="start" >Target (-)</text>
<rect x="1136.4" y="652.4" width="40.399999999999864" height="22.5" fill="#fff" stroke="#111" stroke-width="2"/>
<rect x="1137.2" y="697.1" width="43.299999999999955" height="24.699999999999932" fill="#050505"/>
<text x="1196.3" y="675.9" font-size="33.2" text-anchor="start" >Cue-High</text>
<text x="1196.3" y="721.1" font-size="33.2" text-anchor="start" >Cue-Low</text>
<line x1="753.5" y1="1205.6" x2="753.5" y2="1584.2" stroke="#231815" stroke-width="2.0"/>
<line x1="741.5" y1="1270.4" x2="753.5" y2="1270.4" stroke="#231815" stroke-width="2.0"/>
<line x1="741.5" y1="1395" x2="753.5" y2="1395" stroke="#231815" stroke-width="2.0"/>
<line x1="790.5" y1="1325.4" x2="790.5" y2="1371.2" stroke="#231815" stroke-width="2.0"/>
<line x1="778.1" y1="1325.4" x2="802.5" y2="1325.4" stroke="#231815" stroke-width="2.4"/>
<line x1="864.2" y1="1294.6" x2="864.2" y2="1343.2" stroke="#231815" stroke-width="2.0"/>
<line x1="851.4" y1="1294.6" x2="875.8" y2="1294.6" stroke="#231815" stroke-width="2.4"/>
<line x1="942.1" y1="1402.4" x2="942.1" y2="1436.9" stroke="#231815" stroke-width="2.0"/>
<line x1="929.2" y1="1402.4" x2="953.4" y2="1402.4" stroke="#231815" stroke-width="2.4"/>
<line x1="1011" y1="1438.3" x2="1011" y2="1499.6" stroke="#231815" stroke-width="2.0"/>
<line x1="998.4" y1="1438.3" x2="1023.2" y2="1438.3" stroke="#231815" stroke-width="2.4"/>
<line x1="1089.1" y1="1574.8" x2="1089.1" y2="1544.4" stroke="#231815" stroke-width="2.0"/>
<line x1="1076.4" y1="1574.8" x2="1101.1" y2="1574.8" stroke="#231815" stroke-width="2.4"/>
<line x1="1159.9" y1="1462.7" x2="1159.9" y2="1486.8" stroke="#231815" stroke-width="2.0"/>
<line x1="1147" y1="1462.7" x2="1171.8" y2="1462.7" stroke="#231815" stroke-width="2.4"/>
<line x1="1234.6" y1="1204.5" x2="1234.6" y2="1251" stroke="#231815" stroke-width="2.0"/>
<line x1="1221" y1="1204.5" x2="1246.5" y2="1204.5" stroke="#231815" stroke-width="2.4"/>
<line x1="1309.4" y1="1296" x2="1309.4" y2="1339.9" stroke="#231815" stroke-width="2.0"/>
<line x1="1296.5" y1="1296" x2="1321.6" y2="1296" stroke="#231815" stroke-width="2.4"/>
<rect x="766.7" y="1372.2" width="47.89999999999998" height="147.39999999999986" fill="#fff" stroke="#231815" stroke-width="2"/>
<rect x="839.1" y="1343.2" width="50.299999999999955" height="176.39999999999986" fill="#231815"/>
<rect x="918.1" y="1437.9" width="47.5" height="81.69999999999982" fill="#fff" stroke="#231815" stroke-width="2"/>
<rect x="986.1" y="1499.6" width="50.30000000000007" height="20.0" fill="#231815"/>
<rect x="1065.4" y="1520.6" width="47.799999999999955" height="23.800000000000182" fill="#fff" stroke="#231815" stroke-width="2"/>
<rect x="1134.8" y="1486.8" width="50.40000000000009" height="32.799999999999955" fill="#231815"/>
<rect x="1210.9" y="1252" width="47.5" height="267.5999999999999" fill="#fff" stroke="#231815" stroke-width="2"/>
<rect x="1284.5" y="1339.9" width="50.40000000000009" height="179.69999999999982" fill="#231815"/>
<line x1="742" y1="1519.6" x2="1347.5" y2="1519.6" stroke="#231815" stroke-width="2.2"/>
<path d="M759.9 1561.8 V1582 H901.2 V1561.8" fill="none" stroke="#231815" stroke-width="2" stroke-linejoin="round"/>
<path d="M907.4 1561.8 V1582 H1048.6 V1561.8" fill="none" stroke="#231815" stroke-width="2" stroke-linejoin="round"/>
<path d="M1062.7 1561.8 V1582 H1203.5 V1561.8" fill="none" stroke="#231815" stroke-width="2" stroke-linejoin="round"/>
<path d="M1210.2 1561.8 V1582 H1351 V1561.8" fill="none" stroke="#231815" stroke-width="2" stroke-linejoin="round"/>
<path d="M769.8 1640 V1660.2 H1039.1 V1640" fill="none" stroke="#231815" stroke-width="2"/>
<path d="M1069.3 1640 V1660.2 H1338.1 V1640" fill="none" stroke="#231815" stroke-width="2"/>
<text x="730.3" y="1285.2" font-size="33.2" text-anchor="end" >0.2</text>
<text x="726.2" y="1528.4" font-size="33.2" text-anchor="end" >0</text>
<text transform="translate(671.5 1400) rotate(-90)" font-size="33.2" text-anchor="middle">Percent signal change</text>
<text x="668.5" y="1622.9" font-size="33.2" text-anchor="start" >prev-Dec</text>
<text x="816.5" y="1622.9" font-size="33.2" text-anchor="start" >(+)</text>
<text x="959.5" y="1622.9" font-size="33.2" text-anchor="start" >(-)</text>
<text x="1115" y="1622.9" font-size="33.2" text-anchor="start" >(+)</text>
<text x="1258" y="1622.9" font-size="33.2" text-anchor="start" >(-)</text>
<text x="820" y="1701.3" font-size="33.2" text-anchor="start" >Target (+)</text>
<text x="1159.5" y="1701.3" font-size="33.2" text-anchor="start" >Target (-)</text>
<rect x="932.9" y="1219.9" width="40.60000000000002" height="22.199999999999818" fill="#fff" stroke="#111" stroke-width="2"/>
<rect x="934.4" y="1264.3" width="43.5" height="24.90000000000009" fill="#050505"/>
<text x="993.4" y="1242.6" font-size="33.2" text-anchor="start" >Cue-High</text>
<text x="993.4" y="1288.3" font-size="33.2" text-anchor="start" >Cue-Low</text>
</svg>
</body></html>
